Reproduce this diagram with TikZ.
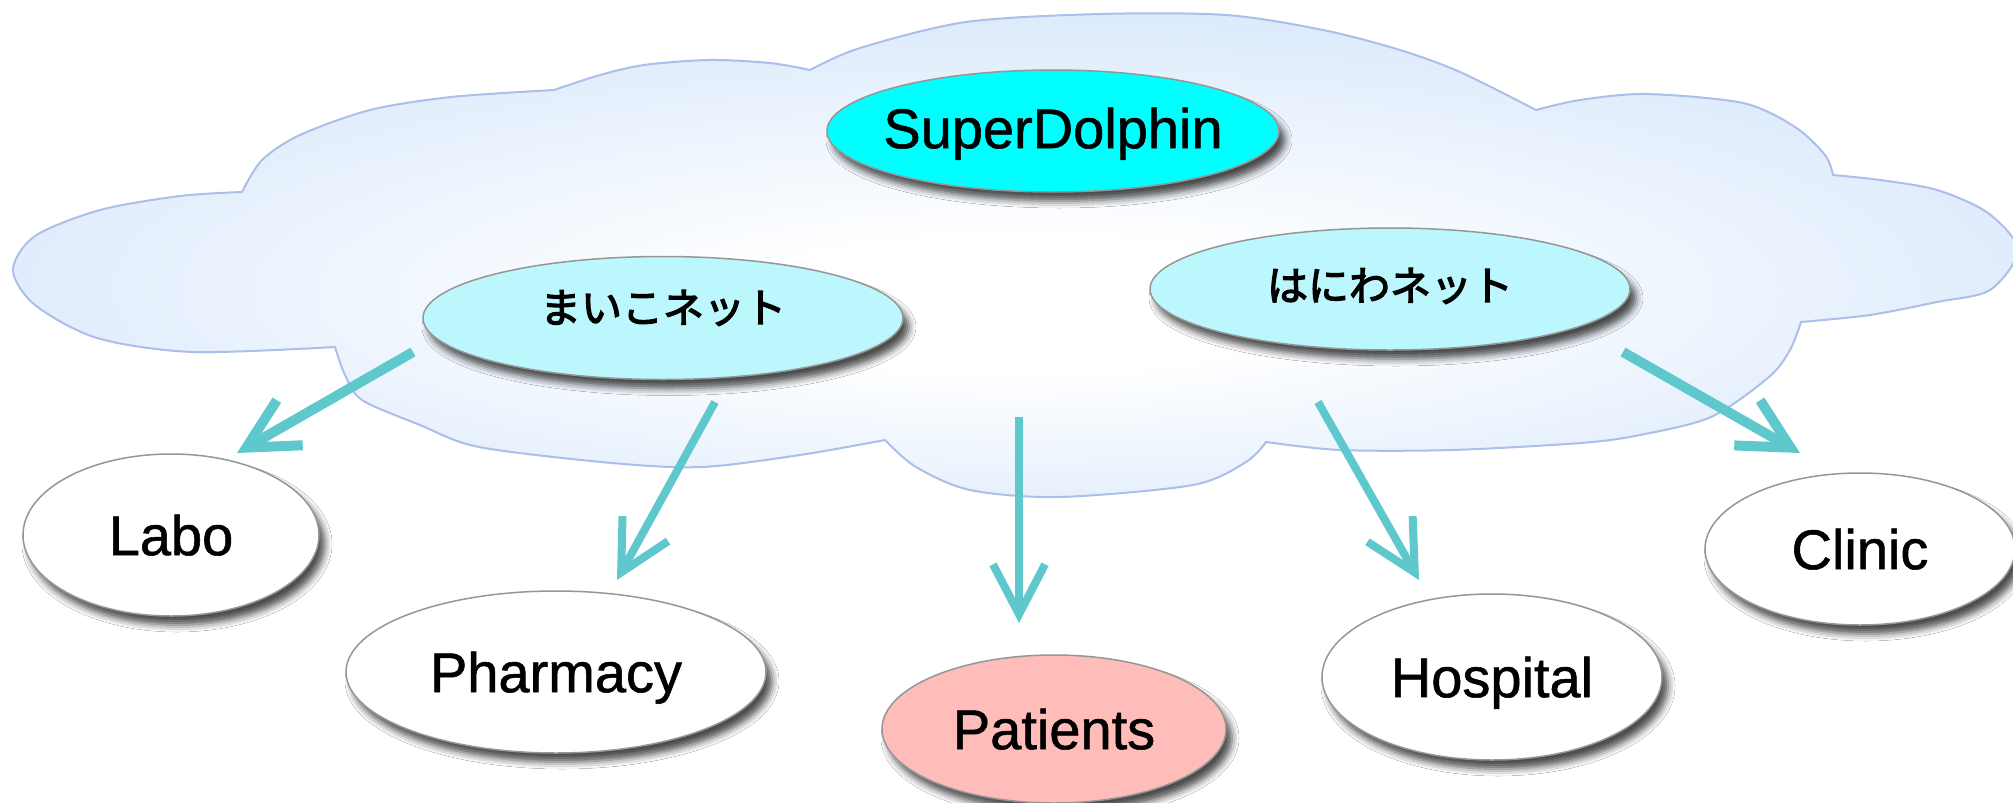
\documentclass[tikz,border=0pt]{standalone}
\usepackage{fontspec}
\setmainfont{Liberation Sans}[FakeBold=1]
\newfontfamily\jp[FakeBold=3]{Noto Sans CJK JP}
\usetikzlibrary{arrows.meta,shapes.geometric,shadows.blur,calc}
\definecolor{arrowc}{RGB}{95,200,204}
\definecolor{sdc}{RGB}{0,255,255}
\definecolor{netc}{RGB}{187,247,252}
\definecolor{patc}{RGB}{255,189,185}
\definecolor{cloudc}{RGB}{216,232,251}
\definecolor{cloudline}{RGB}{172,190,234}
\definecolor{edgec}{RGB}{150,150,150}
\pgfdeclareradialshading{cloudshade}{\pgfpoint{0bp}{-6bp}}{color(0bp)=(white); color(7bp)=(white); color(30bp)=(cloudc); color(50bp)=(cloudc)}
\newcommand{\ctext}[2][0pt]{\smash{\makebox[0pt]{\raisebox{\dimexpr-0.36em+#1\relax}{#2}}}}
\tikzset{
  bub/.style={ellipse, draw=edgec, line width=1.5pt, inner sep=0pt,
    blur shadow={shadow xshift=6pt, shadow yshift=-9pt, shadow blur radius=7pt, shadow opacity=70},
    font=\fontsize{56}{60}\selectfont},
  netbub/.style={bub, fill=netc, font=\jp\fontsize{41}{45}\selectfont},
  endbub/.style={bub, fill=white},
  link/.style={draw=arrowc, line width=#1, -{Straight Barb[length=50pt, width=52pt, line width=#1]}},
  link/.default=8pt
}
\begin{document}
\begin{tikzpicture}[x=1pt,y=-1pt]
\useasboundingbox[fill=white] (0,0) rectangle (2013,803);
% cloud
\path[shading=cloudshade, draw=cloudline, line width=2pt]
  (335,347)
  -- plot[smooth] coordinates {(335,347) (193,352) (97,338) (35,305) (13,270) (35,236) (100,210) (180,196) (242,192)}
  -- plot[smooth] coordinates {(242,192) (262,160) (300,135) (370,110) (451,97) (554,90)}
  -- plot[smooth] coordinates {(554,90) (600,75) (644,65) (709,60) (770,63) (810,70)}
  -- plot[smooth] coordinates {(810,70) (860,48) (966,22) (1100,14) (1226,15) (1323,30) (1400,50) (1460,72) (1536,110)}
  -- plot[smooth] coordinates {(1536,110) (1580,100) (1646,94) (1743,103) (1795,127) (1825,155) (1833,175)}
  -- plot[smooth] coordinates {(1833,175) (1880,180) (1937,190) (1988,213) (2018,250) (1990,290) (1937,302) (1870,315) (1801,322)}
  -- plot[smooth] coordinates {(1801,322) (1790,350) (1769,377) (1711,417) (1640,435) (1581,443) (1452,450) (1340,450) (1266,442)}
  -- plot[smooth] coordinates {(1266,442) (1246,462) (1193,485) (1059,497) (970,490) (916,467) (885,440)}
  -- plot[smooth] coordinates {(885,440) (800,455) (702,467) (612,463) (479,447) (420,425) (362,400) (345,375) (335,347)}
  -- cycle;
% nodes
\node[bub, fill=sdc, minimum width=452pt, minimum height=122pt] (sd) at (1053,131) {\ctext[3pt]{SuperDolphin}};
\node[netbub, minimum width=480pt, minimum height=123pt] (maiko) at (663,318) {\ctext[10pt]{まいこネット}};
\node[netbub, minimum width=480pt, minimum height=122pt] (haniwa) at (1390,289) {\ctext[3pt]{はにわネット}};
\node[endbub, minimum width=296pt, minimum height=162pt] (labo) at (171,535) {\ctext{Labo}};
\node[endbub, minimum width=420pt, minimum height=162pt] (pharm) at (556,672) {\ctext{Pharmacy}};
\node[bub, fill=patc, minimum width=344pt, minimum height=148pt] (pat) at (1054,729) {\ctext{Patients}};
\node[endbub, minimum width=340pt, minimum height=166pt] (hosp) at (1492,677) {\ctext{Hospital}};
\node[endbub, minimum width=310pt, minimum height=152pt] (clinic) at (1860,549) {\ctext{Clinic}};
% arrow ends
\coordinate (s1) at ($(maiko)+(-250,34)$);
\coordinate (t1) at ($(labo)+(66,-82)$);
\coordinate (s2) at ($(maiko)+(52,84)$);
\coordinate (t2) at ($(pharm)+(61,-92)$);
\coordinate (s3) at ($(sd)+(-34,286)$);
\coordinate (t3) at ($(pat)+(-35,-106)$);
\coordinate (s4) at ($(haniwa)+(-72,113)$);
\coordinate (t4) at ($(hosp)+(-73,-97)$);
\coordinate (s5) at ($(haniwa)+(233,63)$);
\coordinate (t5) at ($(clinic)+(-60,-96)$);
\draw[link=10pt] (s1) -- (t1);
\draw[link] (s2) -- (t2);
\draw[link] (s3) -- (t3);
\draw[link] (s4) -- (t4);
\draw[link=10pt] (s5) -- (t5);
\end{tikzpicture}
\end{document}
